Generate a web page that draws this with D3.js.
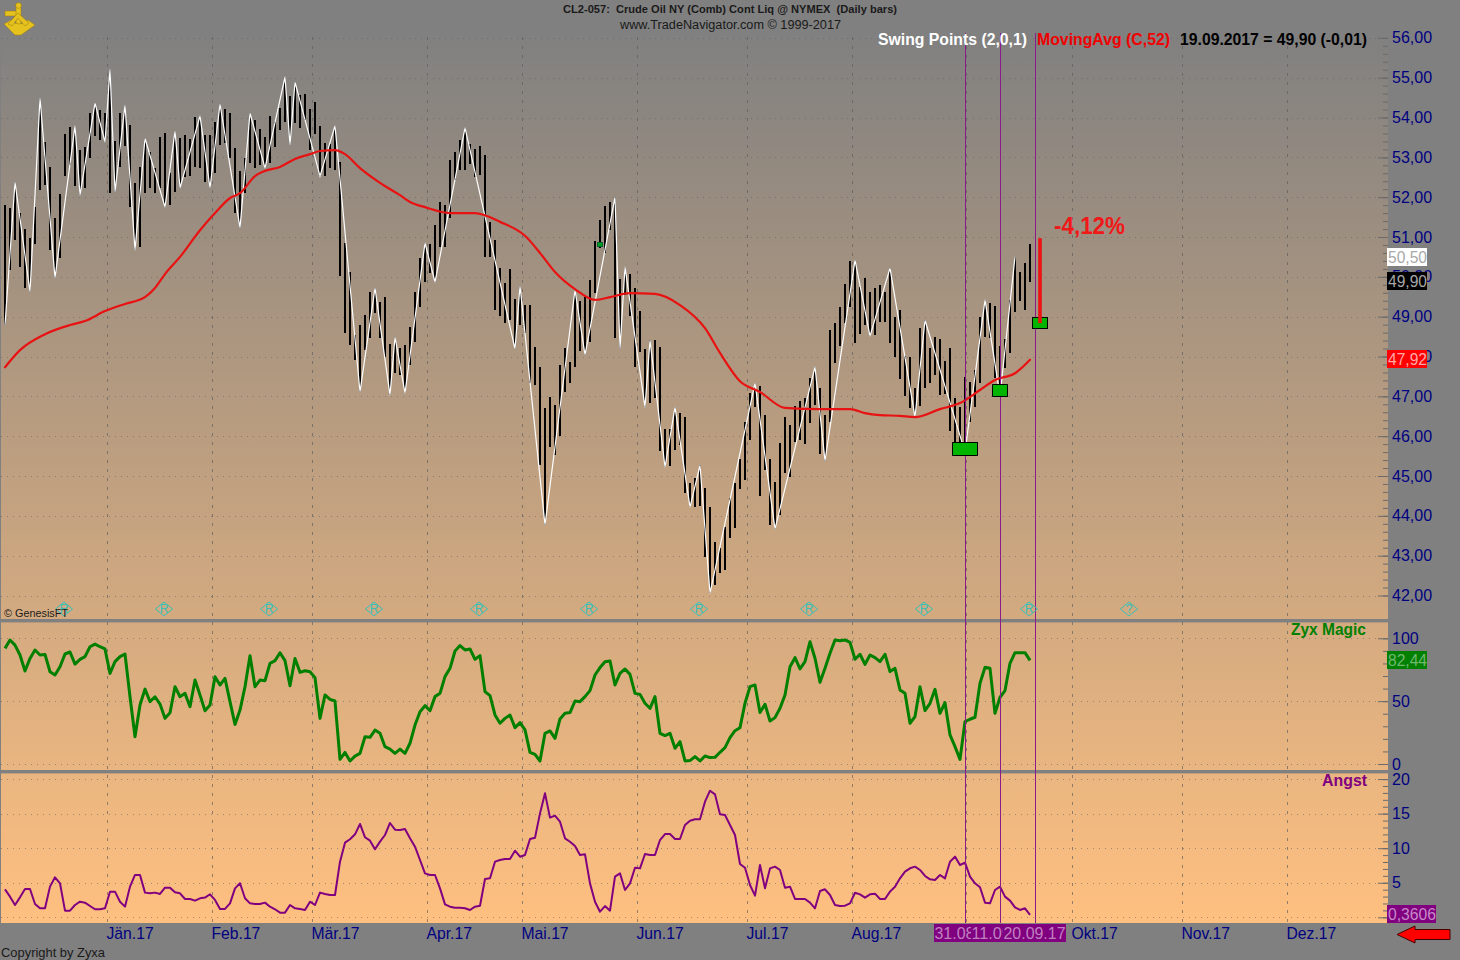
<!DOCTYPE html>
<html><head><meta charset="utf-8">
<script src="https://d3js.org/d3.v7.min.js"></script>
<style>html,body{margin:0;padding:0;background:#808080;overflow:hidden}svg{display:block}text{font-family:"Liberation Sans",Arial,sans-serif}</style>
</head><body><svg id="c" width="1460" height="960"></svg>
<script>
const barHigh=[51.80,51.73,52.38,51.60,51.20,50.97,51.75,54.49,53.38,52.76,51.48,52.08,53.59,53.76,53.79,53.18,53.26,54.11,54.36,54.19,54.11,55.22,53.41,54.11,54.31,53.81,52.36,52.76,53.48,53.13,52.73,53.51,53.61,52.61,53.66,53.48,53.56,53.46,54.01,54.04,53.56,53.56,53.89,54.34,54.21,54.11,53.23,52.66,52.98,54.11,53.94,53.71,53.51,54.04,53.89,54.24,55.02,54.54,54.89,54.56,54.59,54.21,54.39,53.79,53.36,53.33,53.79,52.88,50.85,50.12,48.54,48.79,49.04,49.62,49.72,49.37,49.49,48.31,48.49,48.21,48.29,48.74,49.62,50.47,50.85,50.82,51.30,51.88,51.80,52.93,53.13,53.43,53.74,53.33,53.21,53.28,53.06,51.38,50.93,50.22,49.84,50.20,49.44,49.77,49.29,49.29,48.24,47.74,46.71,46.98,46.78,47.79,48.21,47.86,49.67,49.39,49.49,49.92,50.90,51.43,51.78,51.88,52.00,49.94,50.25,50.07,49.72,49.14,48.19,48.41,48.41,48.24,46.18,46.18,46.73,46.58,46.48,44.82,44.95,45.27,44.70,44.22,43.34,43.19,43.72,44.45,44.82,45.43,46.35,47.08,47.33,47.26,46.53,45.43,44.85,45.83,46.48,46.28,46.76,46.88,46.96,47.46,47.74,47.21,46.53,48.66,48.84,49.24,49.82,50.40,50.42,49.74,49.97,49.62,49.72,49.79,49.62,50.22,48.99,49.17,48.01,47.99,47.21,48.71,48.91,48.21,48.49,48.44,47.89,48.21,46.96,46.73,47.49,47.36,47.66,48.99,49.42,49.34,49.27,48.26,48.44,49.42,50.50,50.12,50.35,50.82];
const barLow=[48.79,50.17,50.93,50.25,49.72,49.62,50.83,52.18,52.30,50.67,49.97,50.47,52.53,52.81,52.28,52.05,52.23,52.98,53.53,53.43,53.38,52.10,52.13,52.76,53.28,51.75,50.67,50.75,52.10,52.23,52.10,52.23,51.75,51.80,52.13,52.23,52.51,52.53,52.76,52.73,52.38,52.23,52.61,53.31,53.36,52.98,51.60,51.23,52.10,52.86,52.73,52.81,52.73,52.86,53.26,53.69,53.89,53.31,53.86,53.74,53.94,53.18,53.59,52.53,52.53,52.73,52.68,50.02,48.59,48.29,47.91,47.11,48.16,48.46,49.09,48.46,47.99,47.03,47.58,47.53,47.08,47.79,48.36,49.24,49.87,50.10,49.87,50.75,50.75,51.48,52.43,52.68,52.68,52.83,52.51,52.56,50.50,50.50,49.17,49.02,48.84,48.92,48.19,48.79,48.59,47.33,47.28,45.27,43.77,45.73,45.53,46.00,47.11,47.33,47.74,48.14,48.04,48.36,49.59,50.72,50.60,51.17,48.46,48.19,49.54,49.02,47.74,48.11,46.73,46.83,46.96,45.63,45.22,45.25,45.65,45.78,44.57,44.22,44.22,44.25,42.97,42.06,42.26,42.56,42.64,43.44,43.69,44.67,44.90,45.90,46.73,44.50,45.15,43.77,43.67,44.02,45.07,44.97,45.85,45.90,45.80,46.33,46.78,45.55,45.38,46.35,47.84,48.26,48.84,49.24,48.34,48.56,48.79,48.51,48.54,48.87,48.87,48.34,47.99,47.43,47.01,46.71,46.48,46.76,47.21,47.33,47.53,47.03,47.06,46.13,45.78,45.83,45.60,46.35,46.73,47.33,48.49,48.46,47.46,47.01,47.71,48.09,49.12,49.39,49.17,49.87];
// Swing pivots alternate low, high, low, ... starting with a low
const swingBars=[0,2,5,7,10,14,15,18,20,21,22,24,26,28,32,34,35,39,41,43,47,49,52,56,57,58,63,66,71,74,77,78,80,84,86,92,102,103,108,114,116,122,123,124,128,129,132,134,137,139,141,150,154,162,164,170,173,177,182,184,192,196,199,202];
const maBars=[0,3,8,13,16,20,24,28,30,32,35,39,42,45,47,50,52,55,58,61,63,66,68,71,75,79,81,84,89,94,99,104,107,110,114,118,121,125,130,135,140,143,147,151,156,163,169,172,175,179,182,187,191,195,198,202,205];
const maValues=[47.73,48.16,48.56,48.79,48.89,49.14,49.32,49.49,49.72,50.07,50.50,51.17,51.60,51.98,52.10,52.53,52.66,52.76,52.96,53.08,53.16,53.18,53.08,52.73,52.36,52.05,51.88,51.75,51.60,51.60,51.38,51.03,50.60,50.12,49.69,49.42,49.49,49.59,49.57,49.29,48.71,48.09,47.38,47.11,46.71,46.68,46.68,46.58,46.53,46.51,46.48,46.68,46.83,47.16,47.41,47.58,47.92];
const zyxMagic=[92.0,98.6,94.6,86.7,74.0,84.0,90.7,86.7,87.2,73.4,70.8,77.4,87.5,89.1,79.5,83.2,85.4,93.3,95.4,93.3,91.5,72.1,81.4,85.4,87.5,53.5,21.7,46.9,59.6,49.6,53.5,47.7,36.3,40.8,61.5,53.5,56.2,45.6,66.8,54.9,42.4,46.9,69.4,62.8,68.1,49.6,31.5,42.9,61.5,86.2,61.5,66.8,66.3,80.1,82.2,88.5,82.2,62.3,84.0,72.9,74.2,73.4,68.7,36.3,54.9,51.4,50.1,3.7,9.2,2.4,6.3,8.4,21.7,21.2,27.0,24.4,13.8,11.9,8.5,11.9,8.5,16.5,31.0,41.6,46.4,42.4,53.6,56.2,69.5,76.1,89.9,94.2,90.7,91.5,83.3,86.2,57.6,54.4,39.0,32.4,36.3,39.0,28.9,32.9,27.1,9.3,7.7,2.4,24.4,26.3,20.4,35.8,40.3,40.9,50.1,49.6,53.6,58.4,70.8,76.7,81.4,82.0,62.9,72.1,75.6,71.3,56.2,55.4,48.3,44.3,53.6,24.4,22.6,24.4,12.5,17.8,2.4,2.7,5.9,2.4,6.4,5.1,5.3,9.3,13.0,21.0,26.5,28.9,48.3,61.5,62.9,40.9,47.5,34.2,36.9,44.3,54.9,77.4,84.6,75.6,81.4,97.3,84.1,65.0,76.1,88.1,98.7,98.1,98.7,96.8,83.3,87.3,79.3,86.7,84.6,81.4,87.3,73.5,76.1,58.9,56.2,32.4,37.7,61.5,42.5,48.3,59.4,40.3,48.8,23.1,13.8,3.7,33.7,35.6,37.2,64.2,76.9,76.1,40.3,53.1,58.4,80.1,88.6,88.6,88.6,82.44];
const angst=[4.05,2.99,1.78,2.89,4.10,4.10,1.93,1.30,1.30,4.44,5.79,4.92,0.96,0.96,1.78,2.26,2.12,1.64,1.16,1.16,1.30,3.71,3.71,2.26,1.54,4.44,6.13,6.13,3.57,3.47,3.57,3.38,4.29,4.29,3.62,3.47,2.65,2.65,2.41,2.75,2.85,3.33,2.51,1.21,1.21,2.02,4.19,4.92,2.75,2.02,1.93,1.93,2.12,1.54,1.16,0.67,0.67,1.78,1.30,1.21,1.06,2.26,1.78,3.57,3.38,3.23,3.23,8.05,10.80,11.29,12.01,13.51,11.58,11.09,9.84,10.95,11.91,13.65,12.68,12.63,12.78,11.43,10.22,8.29,6.36,6.12,6.12,4.19,1.87,1.54,1.39,1.39,1.30,1.05,1.54,1.68,5.54,5.64,8.05,8.29,8.44,8.44,9.64,8.77,9.01,11.33,11.52,15.04,17.94,14.42,14.71,13.84,11.43,10.94,10.32,9.01,9.11,4.91,2.26,0.81,1.63,0.96,5.88,6.36,3.95,4.91,7.18,7.08,9.16,9.01,9.01,11.18,12.05,12.05,11.33,11.33,13.36,13.98,14.18,14.18,16.73,18.32,17.79,14.90,14.80,13.36,11.91,7.71,7.18,4.67,3.13,7.57,4.19,7.08,7.33,6.84,4.29,4.43,2.65,2.65,2.65,2.12,1.30,3.80,4.05,3.23,1.78,1.63,1.68,2.02,3.56,3.32,2.84,3.32,3.42,2.65,2.65,3.71,4.43,5.64,6.60,7.09,7.33,6.85,5.98,5.49,5.40,6.12,5.64,8.05,8.78,7.57,7.91,5.88,4.92,4.34,2.12,2.02,3.95,4.43,2.99,2.41,1.44,1.06,1.30,0.3606];
const monthLabels=["Jän.17","Feb.17","Mär.17","Apr.17","Mai.17","Jun.17","Jul.17","Aug.17","Okt.17","Nov.17","Dez.17"];
const monthBars=[20.4,41.4,61.4,84.4,103.4,126.4,148.4,169.4,213.4,235.4,256.4];
const septemberBar=192.2;
const priceTicks=[42,43,44,45,46,47,48,49,50,51,52,53,54,55,56];
const zyxTicks=[0,50,100];
const angstTicks=[0,5,10,15,20];
const eventBars=[192,199,206];
const eventDates=["31.08.17","11.09.17","20.09.17"];
const rolloverBars=[11.8,31.8,52.8,73.8,94.8,116.8,138.8,160.8,183.8,204.8,224.8];
const rolloverLabels=["R","R","R","R","R","R","R","R","R","R","?"];
const targetBars=[192,199,207];
const targetPrices=[45.68,47.15,48.84];
const targetWidths=[26,16,16];
const targetHeights=[14,13,12];
const dropTop=50.97, dropBottom=48.84, dropBar=207;
const smallMarkBar=119, smallMarkPrice=50.80;

const svg=d3.select("#c");
const x=d3.scaleLinear().domain([0,205]).range([5,1030]);
const y=d3.scaleLinear().domain([42,56]).range([595.5,37.85]);
const yZ=d3.scaleLinear().domain([0,100]).range([764,638.3]);
const yA=d3.scaleLinear().domain([0,20]).range([917.3,779.1]);
const L=1,R=1388,T=32,B=923;

const grad=svg.append("defs").append("linearGradient").attr("id","bg")
 .attr("gradientUnits","userSpaceOnUse").attr("x1",0).attr("y1",T).attr("x2",0).attr("y2",B);
grad.append("stop").attr("offset",0).attr("stop-color","#808080");
grad.append("stop").attr("offset",1).attr("stop-color","#ffc080");
svg.append("rect").attr("width",1460).attr("height",960).attr("fill","#808080");
svg.append("rect").attr("x",L).attr("y",T).attr("width",R-L).attr("height",B-T).attr("fill","url(#bg)");

// grid
const gGrid=svg.append("g").attr("shape-rendering","crispEdges");
const hGrid=(ticks,sc)=>gGrid.append("g").selectAll("line").data(ticks).join("line")
 .attr("x1",L).attr("x2",1378).attr("y1",d=>Math.round(sc(d))+.5).attr("y2",d=>Math.round(sc(d))+.5)
 .attr("stroke","#5c5c5c").attr("stroke-opacity",.55).attr("stroke-width",1).attr("stroke-dasharray","1,5");
hGrid(priceTicks,y);hGrid(zyxTicks,yZ);hGrid(angstTicks,yA);
gGrid.append("g").selectAll("line").data(monthBars.concat([septemberBar])).join("line")
 .attr("x1",d=>Math.round(x(d))+.5).attr("x2",d=>Math.round(x(d))+.5).attr("y1",37).attr("y2",B)
 .attr("stroke","#5a5a5a").attr("stroke-opacity",.65).attr("stroke-dasharray","3,6");

// separators
svg.append("g").selectAll("rect").data([619,770]).join("rect")
 .attr("x",0).attr("y",d=>d).attr("width",R).attr("height",3.4).attr("fill","#808080");

// price bars
svg.append("g").attr("shape-rendering","crispEdges").selectAll("rect").data(barHigh).join("rect")
 .attr("x",(d,i)=>x(i)-1).attr("width",2).attr("y",d=>y(d))
 .attr("height",(d,i)=>y(barLow[i])-y(d)).attr("fill","#000");
// swing line
svg.append("path").attr("fill","none").attr("stroke","#fff").attr("stroke-width",1.2)
 .attr("d",d3.line().x(d=>x(d)).y((d,k)=>y(k%2?barHigh[d]:barLow[d]))(swingBars));
// moving average
svg.append("path").attr("fill","none").attr("stroke","#e81212").attr("stroke-width",2.2)
 .attr("stroke-linejoin","round").attr("stroke-linecap","round")
 .attr("d",d3.line().x(d=>x(d)).y((d,k)=>y(maValues[k])).curve(d3.curveMonotoneX)(maBars));
// zyx, angst
svg.append("path").attr("fill","none").attr("stroke","#007f00").attr("stroke-width",3).attr("stroke-linejoin","round")
 .attr("d",d3.line().x((d,i)=>x(i)).y(d=>yZ(d))(zyxMagic));
svg.append("path").attr("fill","none").attr("stroke","#800080").attr("stroke-width",2).attr("stroke-linejoin","round")
 .attr("d",d3.line().x((d,i)=>x(i)).y(d=>yA(d))(angst));

// event lines
svg.append("g").attr("shape-rendering","crispEdges").selectAll("line").data(eventBars).join("line")
 .attr("x1",d=>x(d)+.5).attr("x2",d=>x(d)+.5).attr("y1",33).attr("y2",B).attr("stroke","#8b1a8b");

// target boxes
svg.append("g").attr("shape-rendering","crispEdges").selectAll("rect").data(targetBars).join("rect")
 .attr("x",(d,i)=>x(d)-targetWidths[i]/2+.5).attr("y",(d,i)=>y(targetPrices[i])-targetHeights[i]/2+.5)
 .attr("width",(d,i)=>targetWidths[i]-1).attr("height",(d,i)=>targetHeights[i]-1)
 .attr("fill","#00b400").attr("stroke","#000");
svg.append("rect").attr("x",x(smallMarkBar)-3).attr("y",y(smallMarkPrice)-2).attr("width",5).attr("height",4)
 .attr("fill","#00a020").attr("stroke","#063").attr("shape-rendering","crispEdges");
svg.append("line").attr("x1",x(dropBar)).attr("x2",x(dropBar)).attr("y1",y(dropTop)).attr("y2",y(dropBottom))
 .attr("stroke","#ee1111").attr("stroke-width",3.6);

// text helper
function label(t,xx,yy,size,fill,weight,w,anchor){
 const e=svg.append("text").text(t).attr("x",xx).attr("y",yy).attr("font-size",size).attr("fill",fill)
  .attr("font-weight",weight||"normal").attr("dominant-baseline","central").style("white-space","pre");
 if(w) e.attr("textLength",w).attr("lengthAdjust","spacingAndGlyphs");
 if(anchor) e.attr("text-anchor",anchor);
 return e;
}

// rollover diamonds
const gRoll=svg.append("g").selectAll("g").data(rolloverBars).join("g").attr("transform",d=>`translate(${x(d)},609)`);
gRoll.append("path").attr("d","M-8.5 0L0 -7L8.5 0L0 7Z").attr("fill","none").attr("stroke","#38c0b8").attr("stroke-width",1);
gRoll.append("text").text((d,i)=>rolloverLabels[i]).attr("text-anchor","middle").attr("dominant-baseline","central")
 .attr("font-size",12).attr("fill","#38c0b8");

label("© GenesisFT",4,613,11,"#1a1a1a",null,64);

// axes
const fmt2=d=>d3.format(".2f")(d).replace(".",",");
function axis(sc,ticks,minor,f){
 const g=svg.append("g").attr("transform",`translate(${R},0)`);
 g.call(d3.axisRight(sc).tickValues(minor).tickSize(-5).tickFormat("")).call(s=>s.select(".domain").remove());
 g.selectAll(".tick line").attr("stroke","#6a6a6a");
 const h=svg.append("g").attr("transform",`translate(${R},0)`);
 h.call(d3.axisRight(sc).tickValues(ticks).tickSize(-10).tickPadding(4).tickFormat(f)).call(s=>s.select(".domain").remove());
 h.selectAll(".tick line").attr("stroke","#6a6a6a");
 h.selectAll("text").attr("font-size",16).attr("font-family",'"Liberation Sans"').attr("fill","#000080");
 return h;
}
axis(y,priceTicks,d3.range(42,56.01,0.2),fmt2);
axis(yZ,zyxTicks,d3.range(0,100.1,10),d3.format("d"));
axis(yA,angstTicks,d3.range(0,20.1,1),d3.format("d"));

// month axis
const mAxis=svg.append("g").attr("transform",`translate(-1,${B})`)
 .call(d3.axisBottom(x).tickValues(monthBars).tickSize(0).tickPadding(5).tickFormat((d,i)=>monthLabels[i]));
mAxis.select(".domain").remove();
mAxis.selectAll("text").attr("text-anchor","start").attr("font-size",15.7).attr("font-family",'"Liberation Sans"').attr("fill","#000080");

// date flags
const flagX=[934,971,1003];
const flagW=[37,32,63];
eventDates.forEach((t,i)=>{
 svg.append("rect").attr("x",flagX[i]).attr("y",924).attr("width",flagW[i]).attr("height",18).attr("fill","#800080");
 const cid="f"+i;
 svg.select("defs").append("clipPath").attr("id",cid).append("rect").attr("x",flagX[i]).attr("y",924).attr("width",flagW[i]).attr("height",18);
 label(t,flagX[i]+.5,933.5,16,"#c080c0",null,62).attr("clip-path",`url(#${cid})`);
});

// value flags
const flags=[["50,50",248,18,40,"#ffffff","#a8a8a8"],["49,90",272,18,40,"#000000","#a8a8a8"],["47,92",350,18,40,"#ff0000","#ffa8a8"],["82,44",651,18,40,"#008000","#70b870"],["0,3606",905,18,49,"#800080","#c888c8"]];
svg.append("g").selectAll("rect").data(flags).join("rect").attr("x",1387).attr("y",d=>d[1]).attr("height",d=>d[2]).attr("width",d=>d[3]).attr("fill",d=>d[4]);
flags.forEach(d=>label(d[0],1388,d[1]+9.5,16,d[5],null,d[3]-1));

// arrow
svg.append("path").attr("d","M1397 934.5L1415 926V929.5H1450V939.5H1415V943Z").attr("fill","#f00").attr("stroke","#400").attr("stroke-width",1);

// headings
label("CL2-057:  Crude Oil NY (Comb) Cont Liq @ NYMEX  (Daily bars)",563,9,11,"#1a1a1a","bold",334);
label("www.TradeNavigator.com © 1999-2017",620,24.5,12.5,"#1a1a1a",null,221);
label("Swing Points (2,0,1)",878,39.5,16,"#fff","bold",149);
label("MovingAvg (C,52)",1037,39.5,16,"#f00000","bold",133);
label("19.09.2017 = 49,90 (-0,01)",1180,39.5,16,"#000","bold",187);
label("Zyx Magic",1291,629.5,16,"#008000","bold",75);
label("Angst",1322,780.5,16,"#800080","bold",45);
label("-4,12%",1054,225.5,24,"#f01818","bold",71);
label("Copyright by Zyxa",1,952,13,"#1a1a1a",null,104);

// sextant logo
const logo=svg.append("g").attr("fill","#e6c21e").attr("stroke","#9a7a10").attr("stroke-width",.5);
logo.append("rect").attr("x",5).attr("y",11).attr("width",13).attr("height",5);
logo.append("rect").attr("x",16).attr("y",4).attr("width",5).attr("height",28);
logo.append("circle").attr("cx",18.5).attr("cy",5.5).attr("r",2.8);
logo.append("path").attr("d","M4 24L11 20Q18 28 28 20L35 25L21 35H15Z");
logo.append("path").attr("d","M18 13L8 24L12 26L18 18L25 26L29 23Z");
</script></body></html>
